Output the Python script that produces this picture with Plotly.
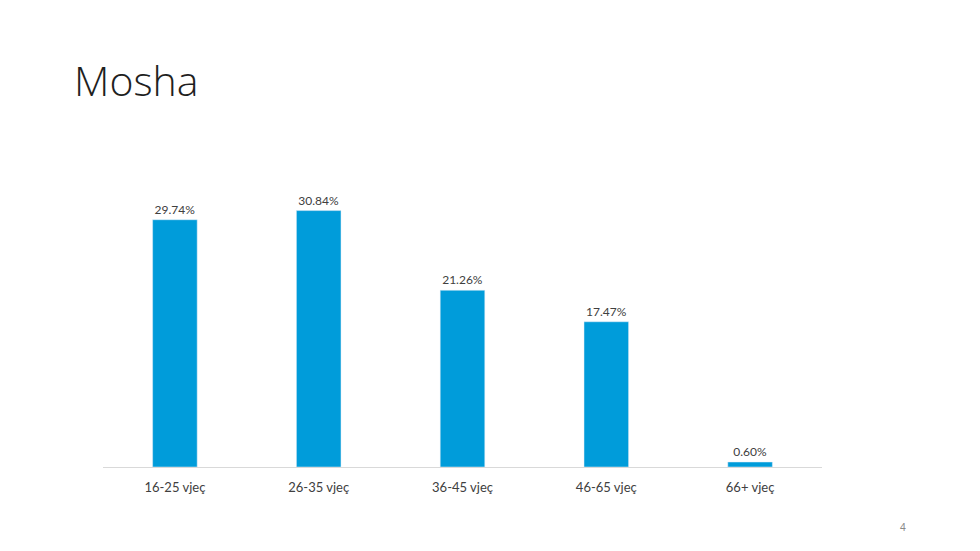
import plotly.graph_objects as go

categories = ["16-25 vjeç", "26-35 vjeç", "36-45 vjeç", "46-65 vjeç", "66+ vjeç"]
values = [29.74, 30.84, 21.26, 17.47, 0.60]
labels = ["29.74%", "30.84%", "21.26%", "17.47%", "0.60%"]

fig = go.Figure(go.Bar(
    x=categories, y=values, text=labels, textposition="outside",
    marker_color="#009CDA", width=0.31, cliponaxis=False,
    textfont=dict(family="Lato, Noto Sans, sans-serif", size=12, color="#404040"),
))
fig.update_layout(
    width=980, height=551, paper_bgcolor="white", plot_bgcolor="white",
    margin=dict(l=95, r=166, t=168, b=92),
    showlegend=False,
)
fig.add_annotation(text="Mosha", xref="paper", yref="paper", x=-0.043, y=1.33,
                   xanchor="left", yanchor="middle", showarrow=False,
                   font=dict(family="Open Sans, Noto Sans, sans-serif", size=41,
                             color="#1f1f1f", weight=300))
fig.add_annotation(text="4", xref="paper", yref="paper", x=1.1127, y=-0.206,
                   xanchor="center", yanchor="middle", showarrow=False,
                   font=dict(family="Noto Sans, sans-serif", size=10, color="#898989"))
fig.update_xaxes(showline=True, linecolor="#d9d9d9", linewidth=1, ticks="",
                 ticklabelstandoff=8,
                 tickfont=dict(family="Lato, Noto Sans, sans-serif", size=13, color="#404040"),
                 showgrid=False)
fig.update_yaxes(range=[0, 35], visible=False, showgrid=False)
fig.write_html("out.html")
